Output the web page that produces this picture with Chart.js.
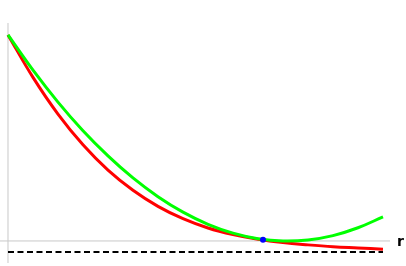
<!DOCTYPE html>
<html>
<head>
<meta charset="utf-8">
<script src="https://cdn.jsdelivr.net/npm/chart.js@4"></script>
<style>
  html, body { margin: 0; padding: 0; background: #fff; }
  canvas { display: block; }
</style>
</head>
<body>
<canvas id="myChart" width="406" height="266"></canvas>
<script>
// r positions where the curves were read (evenly spaced)
const rValues = [0, 0.0667, 0.1333, 0.2, 0.2667, 0.3333, 0.4, 0.4667, 0.5333, 0.6, 0.6667, 0.7333, 0.8, 0.8667, 0.9333, 1.0];

// red curve (exact)
const exactValues = [1.000, 0.794, 0.616, 0.467, 0.344, 0.246, 0.168, 0.108, 0.063, 0.031, 0.008, -0.008, -0.019, -0.028, -0.034, -0.040];

// green curve (approximation)
const approxValues = [1.000, 0.829, 0.674, 0.535, 0.413, 0.306, 0.215, 0.140, 0.081, 0.038, 0.011, 0.000, 0.005, 0.026, 0.064, 0.117];

// blue point where both meet
const pointR = [0.680];
const pointValue = [0.006];

// dashed asymptote level
const asymptote = -0.053;

const xMin = -0.0213, xMax = 1.0187;
const yMin = -0.107, yMax = 1.058;
const axisLabel = "r";

function toPoints(xs, ys) {
  let pts = [];
  for (let i = 0; i < xs.length; i++) {
    pts.push({ x: xs[i], y: ys[i] });
  }
  return pts;
}

// draws the "r" label next to the end of the horizontal axis
const labelPlugin = {
  id: 'axisLabel',
  afterDatasetsDraw(chart) {
    const ctx = chart.ctx;
    const px = chart.scales.x.getPixelForValue(xMax);
    const py = chart.scales.y.getPixelForValue(0);
    ctx.save();
    ctx.fillStyle = '#000';
    ctx.font = 'bold 14px "DejaVu Sans", sans-serif';
    ctx.textBaseline = 'middle';
    ctx.textAlign = 'left';
    ctx.fillText(axisLabel, px + 7, py + 1);
    ctx.restore();
  }
};

let ctx = document.getElementById("myChart");

let chart = new Chart(ctx, {
  type: 'line',
  data: {
    datasets: [
      {
        label: 'point',
        data: toPoints(pointR, pointValue),
        showLine: false,
        pointRadius: 3,
        pointBackgroundColor: '#0000ff',
        pointBorderWidth: 0,
        borderColor: '#0000ff'
      },
      {
        label: 'approx',
        data: toPoints(rValues, approxValues),
        borderColor: '#00ff00',
        borderWidth: 3,
        pointRadius: 0,
        tension: 0.4
      },
      {
        label: 'exact',
        data: toPoints(rValues, exactValues),
        borderColor: '#ff0000',
        borderWidth: 3,
        pointRadius: 0,
        tension: 0.4
      },
      {
        label: 'asymptote',
        data: [{ x: 0, y: asymptote }, { x: 1, y: asymptote }],
        borderColor: '#000',
        borderWidth: 2,
        borderDash: [6, 3.5],
        pointRadius: 0
      },
      {
        label: 'x axis',
        data: [{ x: xMin, y: 0 }, { x: xMax, y: 0 }],
        borderColor: '#c8c8c8',
        borderWidth: 1,
        pointRadius: 0
      },
      {
        label: 'y axis',
        data: [{ x: 0, y: yMin }, { x: 0, y: yMax }],
        borderColor: '#c8c8c8',
        borderWidth: 1,
        pointRadius: 0
      }
    ]
  },
  options: {
    responsive: false,
    animation: false,
    devicePixelRatio: 1,
    layout: {
      autoPadding: false,
      padding: { left: 0, right: 16, top: 23, bottom: 3 }
    },
    plugins: {
      legend: { display: false },
      tooltip: { enabled: false }
    },
    scales: {
      x: { type: 'linear', display: false, min: xMin, max: xMax },
      y: { type: 'linear', display: false, min: yMin, max: yMax }
    }
  },
  plugins: [labelPlugin]
});
</script>
</body>
</html>
